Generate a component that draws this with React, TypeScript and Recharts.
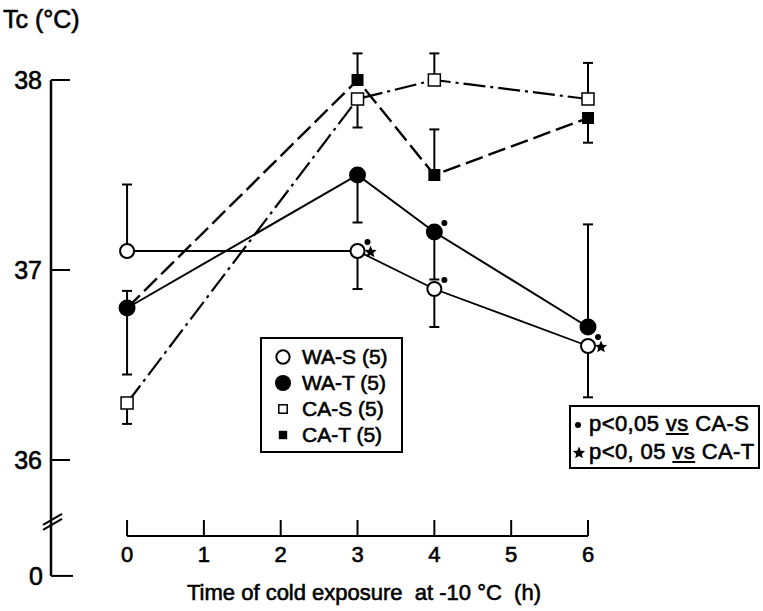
import React from 'react'
import {
  ComposedChart, Line, XAxis, YAxis, ErrorBar,
  ReferenceLine, ReferenceDot, Legend,
} from 'recharts'

const HOURS = [0, 3, 4, 6]
const X_TICKS = [0, 1, 2, 3, 4, 5, 6]
const Y_TICKS = [36, 37, 38]

const WA_S = [37.1, 37.1, 36.9, 36.6]
const WA_T = [36.8, 37.5, 37.2, 36.7]
const CA_S = [36.3, 37.9, 38.0, 37.9]
const CA_T = [36.8, 38.0, 37.5, 37.8]

// one-sided SE bars as [below, above]
const WA_S_ERR = [[0, 0.35], [0.2, 0], [0.2, 0], [0.27, 0]]
const WA_T_ERR = [[0.35, 0], [0.25, 0], [0.25, 0], [0, 0.54]]
const CA_S_ERR = [[0.11, 0], [0.15, 0], [0, 0.14], [0, 0.19]]
const CA_T_ERR = [[0, 0.09], [0, 0.14], [0, 0.24], [0.13, 0]]

// p<0.05 flags
const WA_S_VS_CAS = [false, true, true, true]
const WA_S_VS_CAT = [false, true, false, true]
const WA_T_VS_CAS = [false, false, true, false]

const SERIES_NAMES = ['WA-S (5)', 'WA-T (5)', 'CA-S (5)', 'CA-T (5)']

// broken axis: where the "0" and the break sit on the value scale
const X_MIN = -0.99
const Y_MIN = 35.6
const Y_MAX = 38.2
const AXIS_BREAK = 35.68
const AXIS_ZERO = 35.39

const data = HOURS.map((h, i) => ({
  h,
  waS: WA_S[i], waSErr: WA_S_ERR[i],
  waT: WA_T[i], waTErr: WA_T_ERR[i],
  caS: CA_S[i], caSErr: CA_S_ERR[i],
  caT: CA_T[i], caTErr: CA_T_ERR[i],
}))

const FONT = '"Liberation Sans", Arial, sans-serif'
const INK = '#000'
// scanned print looks a bit heavier than regular weight
const TXT = { fontFamily: FONT, fill: INK, stroke: INK, strokeWidth: 0.6 }

type Kind = 'openCircle' | 'filledCircle' | 'openSquare' | 'filledSquare'

const KIND_BY_NAME: Record<string, Kind> = {
  'WA-S (5)': 'openCircle',
  'WA-T (5)': 'filledCircle',
  'CA-S (5)': 'openSquare',
  'CA-T (5)': 'filledSquare',
}

function Marker({ kind, cx, cy, scale = 1 }: { kind: Kind; cx: number; cy: number; scale?: number }) {
  if (kind === 'openCircle') return <circle cx={cx} cy={cy} r={7 * scale} fill="#fff" stroke={INK} strokeWidth={2} />
  if (kind === 'filledCircle') return <circle cx={cx} cy={cy} r={8.5 * scale} fill={INK} />
  const s = 12 * scale
  if (kind === 'openSquare') return <rect x={cx - s / 2} y={cy - s / 2} width={s} height={s} fill="#fff" stroke={INK} strokeWidth={1.5} />
  return <rect x={cx - s / 2} y={cy - s / 2} width={s} height={s} fill={INK} />
}

function Star({ cx, cy, r }: { cx: number; cy: number; r: number }) {
  const pts: string[] = []
  for (let k = 0; k < 10; k++) {
    const a = -Math.PI / 2 + (k * Math.PI) / 5
    const rr = k % 2 === 0 ? r : r * 0.45
    pts.push(`${cx + rr * Math.cos(a)},${cy + rr * Math.sin(a)}`)
  }
  return <polygon points={pts.join(' ')} fill={INK} />
}

const makeDot = (kind: Kind, vsCAS?: boolean[], vsCAT?: boolean[]) => (p: any) => {
  const { cx, cy, index } = p
  if (cx == null || cy == null) return <g key={`${kind}-${index}`} />
  return (
    <g key={`${kind}-${index}`}>
      <Marker kind={kind} cx={cx} cy={cy} />
      {vsCAS?.[index] && <circle cx={cx + 10} cy={cy - 9} r={3} fill={INK} />}
      {vsCAT?.[index] && <Star cx={cx + 13} cy={cy + 1} r={6.5} />}
    </g>
  )
}

const XTick = ({ x, y, payload }: any) => (
  <g>
    <line x1={x} y1={y} x2={x} y2={y - 16} stroke={INK} strokeWidth={2} />
    <text x={x} y={y + 26} textAnchor="middle" fontSize={22} {...TXT}>{payload.value}</text>
  </g>
)

const YTick = ({ x, y, payload }: any) => (
  <g>
    <line x1={x} y1={y} x2={x + 19} y2={y} stroke={INK} strokeWidth={2} />
    <text x={x - 9} y={y + 9} textAnchor="end" fontSize={25} {...TXT}>{payload.value}</text>
  </g>
)

const AxisBreak = ({ cx, cy }: any) => (
  <g stroke={INK} strokeWidth={2}>
    <line x1={cx - 8} y1={cy + 4} x2={cx + 11} y2={cy - 7} />
    <line x1={cx - 8} y1={cy + 9} x2={cx + 11} y2={cy - 2} />
  </g>
)

const ZeroTick = ({ cx, cy }: any) => (
  <g>
    <line x1={cx} y1={cy} x2={cx + 22} y2={cy} stroke={INK} strokeWidth={2} />
    <text x={cx - 8} y={cy + 9} textAnchor="end" fontSize={25} {...TXT}>0</text>
  </g>
)

const YTitle = () => (
  <text x={3} y={28} fontSize={25} {...TXT}>Tc (°C)</text>
)

const XTitle = () => (
  <text x={364} y={600} textAnchor="middle" fontSize={22} {...TXT} style={{ whiteSpace: 'pre' }}>
    {'Time of cold exposure  at -10 °C  (h)'}
  </text>
)

function SeriesLegend({ payload }: any) {
  const items = [...(payload ?? [])].sort(
    (a: any, b: any) => SERIES_NAMES.indexOf(a.value) - SERIES_NAMES.indexOf(b.value),
  )
  return (
    <div style={{
      boxSizing: 'border-box', width: 143, height: 116, border: `2px solid ${INK}`,
      background: '#fff', paddingTop: 5, fontFamily: FONT, fontSize: 21, color: INK,
      WebkitTextStroke: '0.6px #000',
    }}>
      {items.map((it: any) => (
        <div key={it.value} style={{ display: 'flex', alignItems: 'center', height: 26 }}>
          <svg width={40} height={22} style={{ flex: 'none' }}>
            <Marker kind={KIND_BY_NAME[it.value]} cx={21} cy={11} scale={it.value.startsWith('CA') ? 0.7 : 0.95} />
          </svg>
          <span>{it.value}</span>
        </div>
      ))}
    </div>
  )
}

function SigBox() {
  const row: React.CSSProperties = { display: 'flex', alignItems: 'center', height: 28, whiteSpace: 'pre' }
  return (
    <div style={{
      position: 'absolute', left: 569, top: 405, width: 191, height: 64, boxSizing: 'border-box',
      border: `2px solid ${INK}`, background: '#fff', paddingTop: 3,
      fontFamily: FONT, fontSize: 22, letterSpacing: 0.4, color: INK, WebkitTextStroke: '0.6px #000',
    }}>
      <div style={row}>
        <svg width={18} height={20} style={{ flex: 'none' }}><circle cx={7} cy={11} r={3} fill={INK} /></svg>
        <span>p&lt;0,05 <span style={{ textDecoration: 'underline' }}>vs</span> CA-S</span>
      </div>
      <div style={row}>
        <svg width={18} height={20} style={{ flex: 'none' }}><Star cx={8} cy={11} r={6.5} /></svg>
        <span>p&lt;0, 05 <span style={{ textDecoration: 'underline' }}>vs</span> CA-T</span>
      </div>
    </div>
  )
}

export default function App() {
  return (
    <div style={{ position: 'absolute', left: 0, top: 0, width: 763, height: 611, background: '#fff', fontFamily: FONT }}>
      <ComposedChart width={763} height={611} data={data} margin={{ top: 42, right: 175, bottom: 45, left: 11 }}>
        <XAxis
          dataKey="h" type="number" domain={[X_MIN, 6]} ticks={X_TICKS}
          axisLine={false} tickLine={false} tickSize={0} tickMargin={0}
          height={30} tick={<XTick />} interval={0} label={<XTitle />}
        />
        <YAxis
          type="number" domain={[Y_MIN, Y_MAX]} ticks={Y_TICKS}
          axisLine={false} tickLine={false} tickSize={0} tickMargin={0}
          width={40} tick={<YTick />} interval={0} label={<YTitle />}
        />
        <ReferenceLine
          segment={[{ x: X_MIN, y: 38 }, { x: X_MIN, y: AXIS_ZERO }]}
          stroke={INK} strokeWidth={2.5} ifOverflow="visible"
        />
        <ReferenceLine
          segment={[{ x: 0, y: Y_MIN }, { x: 6, y: Y_MIN }]}
          stroke={INK} strokeWidth={2} ifOverflow="visible"
        />
        <ReferenceDot x={X_MIN} y={AXIS_BREAK} ifOverflow="visible" shape={<AxisBreak />} />
        <ReferenceDot x={X_MIN} y={AXIS_ZERO} ifOverflow="visible" shape={<ZeroTick />} />

        <Line
          name="CA-T (5)" dataKey="caT" type="linear" stroke={INK} strokeWidth={2.4}
          strokeDasharray="18 6" dot={makeDot('filledSquare')} activeDot={false}
          isAnimationActive={false} legendType="square"
        >
          <ErrorBar dataKey="caTErr" direction="y" width={5} stroke={INK} strokeWidth={2} isAnimationActive={false} />
        </Line>
        <Line
          name="CA-S (5)" dataKey="caS" type="linear" stroke={INK} strokeWidth={2.2}
          strokeDasharray="22 5 3 5" dot={makeDot('openSquare')} activeDot={false}
          isAnimationActive={false} legendType="square"
        >
          <ErrorBar dataKey="caSErr" direction="y" width={5} stroke={INK} strokeWidth={2} isAnimationActive={false} />
        </Line>
        <Line
          name="WA-T (5)" dataKey="waT" type="linear" stroke={INK} strokeWidth={2}
          dot={makeDot('filledCircle', WA_T_VS_CAS)} activeDot={false}
          isAnimationActive={false} legendType="circle"
        >
          <ErrorBar dataKey="waTErr" direction="y" width={5} stroke={INK} strokeWidth={2} isAnimationActive={false} />
        </Line>
        <Line
          name="WA-S (5)" dataKey="waS" type="linear" stroke={INK} strokeWidth={1.8}
          dot={makeDot('openCircle', WA_S_VS_CAS, WA_S_VS_CAT)} activeDot={false}
          isAnimationActive={false} legendType="circle"
        >
          <ErrorBar dataKey="waSErr" direction="y" width={5} stroke={INK} strokeWidth={2} isAnimationActive={false} />
        </Line>

        <Legend
          layout="vertical" align="center" verticalAlign="middle"
          width={143} height={116}
          wrapperStyle={{ left: 260, top: 337, width: 143, height: 116 }}
          content={<SeriesLegend />}
        />
      </ComposedChart>
      <SigBox />
    </div>
  )
}
